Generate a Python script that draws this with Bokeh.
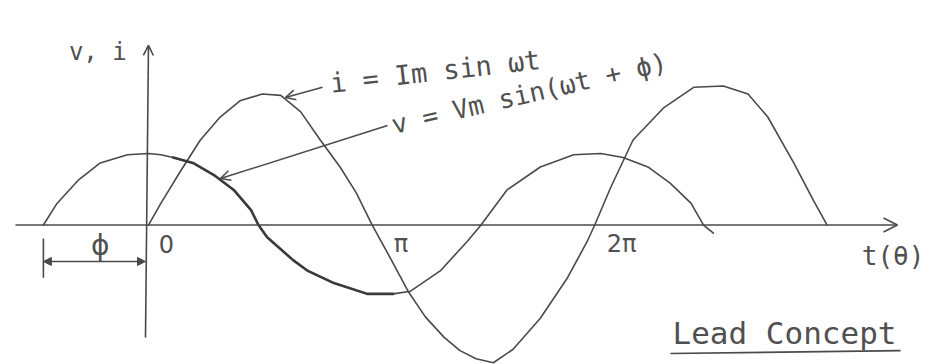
from bokeh.plotting import figure
from bokeh.models import Range1d, Arrow, OpenHead, NormalHead, ColumnDataSource
from bokeh.core.properties import value
from bokeh.embed import file_html
from bokeh.resources import INLINE

# ---- data (x = ωt in degrees, y = instantaneous value, Im = 1) ----
I_DEG = [0, 10, 26, 42, 58, 74, 92, 107, 123, 139, 155, 168, 181, 196, 210, 224, 239,
         252, 265, 279, 295, 317, 339, 355, 361, 374, 392, 417, 441, 465, 485, 501,
         522, 538, 549]
I_VAL = [0, 0.16, 0.40, 0.63, 0.80, 0.92, 0.97, 0.96, 0.84, 0.63, 0.43, 0.24, 0,
         -0.25, -0.49, -0.68, -0.83, -0.93, -0.99, -1.02, -0.92, -0.69, -0.39, -0.12,
         0, 0.28, 0.63, 0.87, 1.02, 1.03, 0.97, 0.80, 0.46, 0.18, 0]

V_DEG = [-85, -74, -57, -39, -17, 0, 10, 20, 36, 53, 69, 83, 89, 96, 117, 129, 150,
         177, 198, 212, 236, 258, 269, 290, 317, 344, 366, 384, 404, 422, 439, 449, 457]
V_VAL = [0, 0.16, 0.33, 0.46, 0.52, 0.53, 0.52, 0.50, 0.46, 0.37, 0.26, 0.11, 0,
         -0.09, -0.26, -0.34, -0.43, -0.51, -0.51, -0.49, -0.34, -0.12, 0, 0.26, 0.43,
         0.52, 0.53, 0.50, 0.43, 0.31, 0.16, 0, -0.06]

PHI_DEG = -85          # voltage leads current by phi
TICKS = [0, 180, 360]
TICK_LABELS = ["0", "π", "2π"]
I_LABEL = "i = Im sin ωt"
V_LABEL = "v = Vm sin(ωt + ϕ)"
AXIS_LABEL_Y = "v, i"
AXIS_LABEL_X = "t(θ)"
TITLE = "Lead Concept"

INK = "#4a4a4a"
TXT = "#505050"
FONT = value("DejaVu Sans")
HAND = value("DejaVu Sans Mono")

p = figure(width=927, height=364, x_range=Range1d(-119.7, 630.2),
           y_range=Range1d(-1.033, 1.663), x_axis_type=None, y_axis_type=None,
           output_backend="svg", toolbar_location=None, min_border=0)
p.grid.visible = False
p.outline_line_color = None
p.background_fill_color = "white"

# hand-drawn axes
p.add_layout(Arrow(x_start=-107.6, y_start=0, x_end=605.9, y_end=0,
                   line_color=INK, line_width=1.6,
                   end=OpenHead(size=14, line_color=INK, line_width=1.6)))
p.add_layout(Arrow(x_start=-2.4, y_start=-0.833, x_end=0, y_end=1.33,
                   line_color=INK, line_width=1.6,
                   end=OpenHead(size=10, line_color=INK, line_width=1.6)))

# curves
p.line(I_DEG, I_VAL, line_color=INK, line_width=1.6, line_join="round", line_cap="round")
p.line(V_DEG, V_VAL, line_color=INK, line_width=1.6, line_join="round", line_cap="round")
# retraced (darker) stretch of v
k0, k1 = V_DEG.index(20), V_DEG.index(198) + 1
p.line(V_DEG[k0:k1], V_VAL[k0:k1], line_color="#3a3a3a", line_width=2.6,
       line_join="round", line_cap="round")

# phase-difference dimension
p.segment(x0=[PHI_DEG], y0=[-0.10], x1=[PHI_DEG], y1=[-0.39], line_color=INK, line_width=1.6)
p.add_layout(Arrow(x_start=PHI_DEG, y_start=-0.27, x_end=-2.4, y_end=-0.27,
                   line_color=INK, line_width=1.5,
                   start=NormalHead(size=8, fill_color=INK, line_color=INK),
                   end=NormalHead(size=8, fill_color=INK, line_color=INK)))
p.text(x=[-39], y=[-0.155], text=["ϕ"], text_font=FONT,
       text_font_size="28px", text_color=TXT, text_align="center", text_baseline="middle")

# tick labels
src = ColumnDataSource(dict(x=TICKS, t=TICK_LABELS, dx=[18, 30, 28]))
p.text(x="x", y=-0.14, text="t", x_offset="dx", source=src, text_font=FONT,
       text_font_size="24px", text_color=TXT, text_align="center", text_baseline="middle")

# axis labels
p.text(x=[-41], y=[1.28], text=[AXIS_LABEL_Y], text_font=HAND, text_font_size="24px",
       text_color=TXT, text_align="center", text_baseline="middle")
p.text(x=[577], y=[-0.226], text=[AXIS_LABEL_X], text_font=HAND, text_font_size="26px",
       text_color=TXT, text_align="left", text_baseline="middle")

# curve annotations with pointer arrows
p.add_layout(Arrow(x_start=140.8, y_start=1.02, x_end=110.8, y_end=0.944,
                   line_color=INK, line_width=1.5,
                   end=OpenHead(size=10, line_color=INK, line_width=1.5)))
p.text(x=[147], y=[1.05], text=[I_LABEL], angle=0.113, text_font=HAND,
       text_font_size="27px", text_color=TXT, text_align="left", text_baseline="alphabetic")
p.add_layout(Arrow(x_start=193.4, y_start=0.737, x_end=58.2, y_end=0.344,
                   line_color=INK, line_width=1.5,
                   end=OpenHead(size=10, line_color=INK, line_width=1.5)))
p.text(x=[197], y=[0.74], text=[V_LABEL], angle=0.227, text_font=HAND,
       text_font_size="26px", text_color=TXT, text_align="left", text_baseline="alphabetic")

# title with underline
p.text(x=[514.5], y=[-0.80], text=[TITLE], text_font=HAND, text_font_size="31px",
       text_color=TXT, text_align="center", text_baseline="alphabetic")
p.segment(x0=[422.3], y0=[-0.952], x1=[608.4], y1=[-0.930], line_color=INK, line_width=1.6)

open("out.html", "w").write(file_html(p, INLINE))
